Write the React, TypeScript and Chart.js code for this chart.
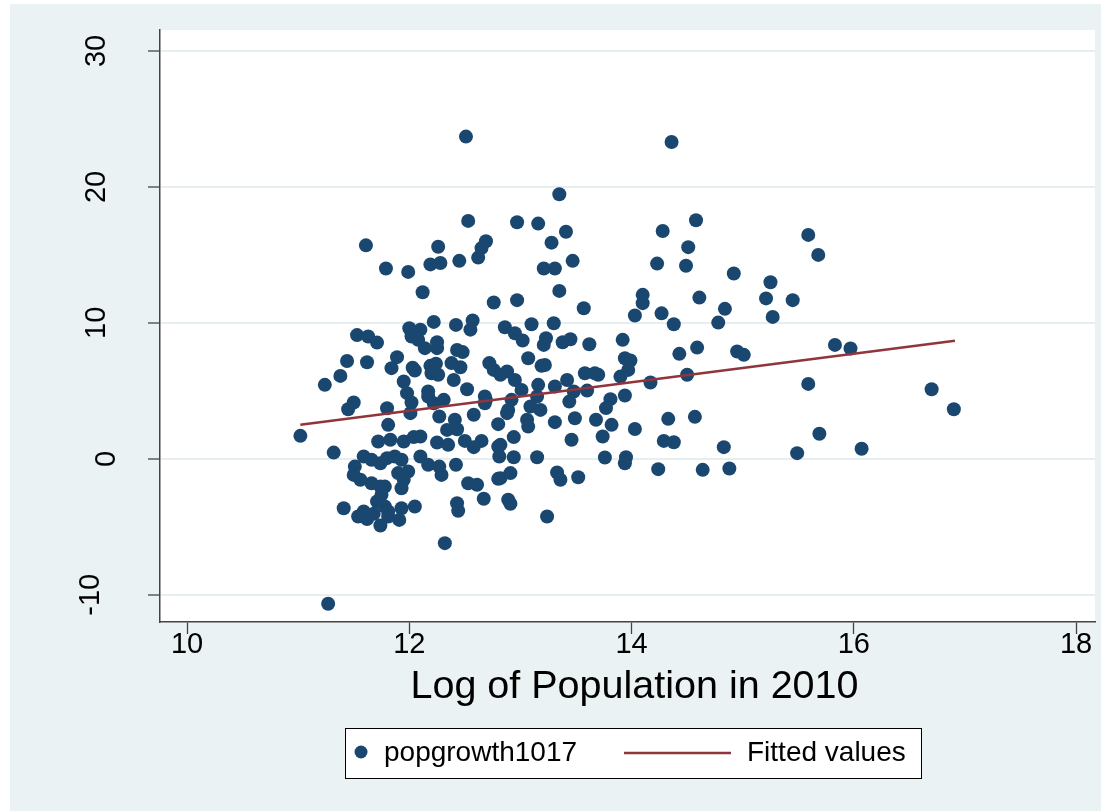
import React, { useEffect, useRef } from "react";
import { Chart, registerables } from "chart.js";

Chart.register(...registerables);

const FONT = '"Liberation Sans", Arial, Helvetica, sans-serif';

const xTicks = [10, 12, 14, 16, 18];
const yTicks = [-10, 0, 10, 20, 30];
const xTitle = "Log of Population in 2010";
const seriesNames = ["popgrowth1017", "Fitted values"];

const logPop = [
  12.51, 12.53, 11.61, 12.26, 12.69, 12.65, 12.62, 11.79, 11.99, 12.19, 12.28, 12.45, 12.12, 12.76, 11.53, 11.63, 11.71, 11.44, 11.62, 12.0,
  12.1, 12.02, 12.08, 12.22, 12.42, 12.57, 12.55, 12.14, 12.25, 12.25, 12.43, 12.48, 11.89, 11.84, 12.03, 12.19, 12.24, 12.38, 12.46, 12.72, 12.86,
  14.36, 13.35, 12.97, 13.16, 13.41, 13.28, 13.21, 13.31, 13.47, 13.35, 12.97, 13.57, 14.28, 14.58, 14.51, 14.23, 14.49, 14.92, 14.1, 14.1,
  14.03, 14.27, 14.38, 14.61, 14.84, 14.78, 12.95, 13.02, 13.1, 13.3, 13.23, 13.21, 13.38, 13.45, 13.62, 13.92, 13.07, 13.19, 13.94, 13.99, 14.43, 14.59,
  15.59, 15.68, 15.25, 15.21, 15.45, 15.27, 14.95, 15.01, 15.83, 15.97,
  15.59, 16.7, 16.9, 15.69, 15.49, 16.07, 14.83, 14.88,
  13.22, 12.88, 12.95, 13.01, 12.92, 12.89, 13.09, 13.18, 13.15, 13.16, 13.31, 13.42, 13.48, 13.44, 13.58, 13.67, 13.7, 13.6, 13.81, 13.77,
  13.94, 13.9, 13.97, 14.17, 14.5, 13.06, 13.07, 12.94, 12.82, 12.94, 12.91, 12.82, 12.89, 12.91, 13.15, 13.24, 13.33, 13.36, 13.52, 13.31,
  13.49, 13.46, 13.68, 13.74, 13.82, 14.03, 13.76, 13.95, 13.94, 14.33, 14.57, 14.29, 14.38, 14.24, 14.64,
  11.02, 11.24, 11.38, 11.45, 11.5, 11.32, 11.8, 11.95, 12.05, 11.98, 12.02, 12.01, 12.17, 12.2, 12.26, 12.22, 12.31, 12.27, 12.41, 12.34,
  12.43, 12.4, 12.52, 12.58, 12.69, 12.8, 12.88, 11.81, 11.72, 11.83, 11.95, 12.04, 12.1, 12.25, 12.35, 12.5, 12.58, 12.65, 12.1, 12.17,
  12.27, 12.29, 12.42, 12.53, 12.61, 12.67, 12.43, 12.44, 12.32, 12.8, 12.81, 12.8, 11.27, 11.59, 11.51, 11.5, 11.56, 11.66, 11.74, 11.8,
  11.87, 11.93, 11.9, 11.99, 11.95, 11.93, 11.66, 11.74, 11.78, 11.71, 11.75, 11.78, 11.81, 11.41, 11.59, 11.54, 11.62, 11.68, 11.74, 11.81,
  11.91, 11.93, 12.05, 12.17, 12.68, 12.68, 12.76, 12.82,
];

const popGrowth = [
  23.7, 17.5, 15.7, 15.6, 16.0, 15.5, 14.8, 14.0, 13.75, 14.3, 14.4, 14.56, 12.25, 11.5, 9.1, 9.0, 8.55, 7.2, 7.1, 9.6,
  9.5, 9.0, 8.75, 10.07, 9.85, 10.17, 9.5, 8.14, 8.58, 8.14, 8.0, 7.85, 7.48, 6.67, 6.7, 6.84, 7.0, 7.04, 6.74, 7.04, 9.68,
  23.3, 19.46, 17.4, 17.3, 16.7, 15.9, 14.0, 14.0, 14.56, 12.35, 11.67, 11.08, 16.76, 17.55, 15.57, 14.36, 14.2, 13.63, 12.06, 11.45,
  10.54, 10.7, 9.9, 11.86, 11.03, 10.02, 9.24, 8.7, 9.9, 9.97, 8.87, 8.38, 8.58, 8.8, 8.43, 8.75, 7.4, 6.84, 7.4, 7.23, 7.72, 8.18,
  16.47, 15.0, 12.99, 11.8, 11.67, 10.44, 7.89, 7.65, 8.38, 8.11,
  5.51, 5.12, 3.65, 1.84, 0.42, 0.74, 0.86, -0.71,
  6.9, 6.42, 5.8, 5.07, 4.34, 3.6, 3.85, 3.6, 4.58, 5.44, 5.32, 5.8, 4.95, 4.21, 6.3, 6.3, 6.18, 5.02, 4.39, 3.73,
  4.66, 6.05, 6.54, 5.61, 6.18, 2.87, 2.37, 1.6, 1.03, 0.12, -1.05, -1.42, -3.0, -3.3, 0.12, -4.24, -1.0, -1.54, -1.35, 2.7,
  2.99, 1.4, 2.87, 1.64, 2.5, 2.2, 0.1, 0.12, -0.32, 2.94, 3.09, 1.32, 1.22, -0.76, -0.81,
  1.69, 5.44, 6.1, 3.65, 4.14, 0.46, 3.72, 5.69, 6.5, 4.83, 4.14, 3.36, 4.95, 6.3, 6.18, 4.09, 4.34, 3.11, 2.87, 2.13,
  2.18, 5.8, 5.12, 3.24, 4.34, 2.55, 3.36, 2.5, 1.27, 1.4, 1.27, 1.6, 1.64, 1.2, 1.03, 1.32, 0.86, 1.32, 0.17, -0.44,
  -0.57, -1.18, -0.44, -1.79, -1.91, -2.94, -3.26, -3.82, -6.2, 0.9, 0.17, -1.47, -10.66, 0.17, -0.57, -1.18, -1.54, -0.07, -0.32, 0.05,
  0.17, -0.07, -1.05, -0.93, -1.54, -2.16, -1.79, -2.04, -2.04, -3.14, -2.65, -3.5, -3.87, -3.63, -3.87, -4.24, -4.43, -4.04, -4.9, -4.24,
  -4.49, -3.63, -3.5, 4.58, 4.58, 4.09, 6.54, 6.18,
];

const fitLogPop = [11.02, 16.91];
const fitValues = [2.5, 8.68];

const NAVY = "#1a476f";
const MAROON = "#90353b";
const BG = "#eaf2f3";

export default function App() {
  const ref = useRef<HTMLCanvasElement | null>(null);

  useEffect(() => {
    const canvas = ref.current;
    if (!canvas) return;
    const n = Math.min(logPop.length, popGrowth.length);
    const scatterData = [];
    for (let i = 0; i < n; i++) scatterData.push({ x: logPop[i], y: popGrowth[i] });
    const fitData = fitLogPop.map((x, i) => ({ x, y: fitValues[i] }));

    const backgroundPlugin = {
      id: "stataBackground",
      beforeDraw(chart: any) {
        const { ctx, chartArea } = chart;
        ctx.save();
        ctx.fillStyle = "#ffffff";
        ctx.fillRect(0, 0, chart.width, chart.height);
        ctx.fillStyle = BG;
        ctx.fillRect(10, 4, 1091, 807);
        ctx.fillStyle = "#ffffff";
        ctx.fillRect(chartArea.left, chartArea.top, chartArea.right - chartArea.left, chartArea.bottom - chartArea.top);
        ctx.restore();
      },
    };

    const textPlugin = {
      id: "stataText",
      afterDraw(chart: any) {
        const { ctx, chartArea } = chart;
        const ys = chart.scales.y;
        ctx.save();
        ctx.font = `29px ${FONT}`;
        ctx.fillStyle = "#000";
        ctx.textAlign = "center";
        ctx.textBaseline = "middle";
        for (const v of yTicks) {
          const label = String(v);
          const py = ys.getPixelForValue(v);
          const w = ctx.measureText(label).width;
          const cx = 117 - 0.62 * w;
          ctx.save();
          ctx.translate(cx, py);
          ctx.rotate(-Math.PI / 2);
          ctx.fillText(label, 0, 0);
          ctx.restore();
        }
        // x-axis title
        ctx.font = `39.5px ${FONT}`;
        ctx.fillText(xTitle, (chartArea.left + chartArea.right) / 2 + 7, 687);
        ctx.restore();
      },
    };

    const legendPlugin = {
      id: "boxLegend",
      afterDraw(chart: any) {
        const { ctx } = chart;
        const ds = chart.data.datasets;
        ctx.save();
        ctx.fillStyle = "#ffffff";
        ctx.fillRect(345, 728, 576, 50);
        ctx.strokeStyle = "#000";
        ctx.lineWidth = 1;
        ctx.strokeRect(345.5, 728.5, 576, 50);
        const cy = 753;
        ctx.fillStyle = ds[0].backgroundColor;
        ctx.beginPath();
        ctx.arc(361, cy - 1, 6.5, 0, Math.PI * 2);
        ctx.fill();
        ctx.strokeStyle = ds[1].borderColor;
        ctx.lineWidth = 2.5;
        ctx.beginPath();
        ctx.moveTo(624, cy);
        ctx.lineTo(731, cy);
        ctx.stroke();
        ctx.fillStyle = "#000";
        ctx.font = `28px ${FONT}`;
        ctx.textAlign = "left";
        ctx.textBaseline = "middle";
        ctx.fillText(ds[0].label, 384, cy);
        ctx.fillText(ds[1].label, 747, cy);
        ctx.restore();
      },
    };

    const chart = new Chart(canvas, {
      type: "scatter",
      data: {
        datasets: [
          {
            label: seriesNames[0],
            data: scatterData,
            backgroundColor: NAVY,
            borderColor: NAVY,
            borderWidth: 0,
            pointRadius: 7,
            order: 2,
          },
          {
            label: seriesNames[1],
            data: fitData,
            showLine: true,
            borderColor: MAROON,
            backgroundColor: MAROON,
            borderWidth: 2.5,
            pointRadius: 0,
            order: 1,
          },
        ],
      } as any,
      options: {
        responsive: false,
        animation: false,
        devicePixelRatio: 1,
        layout: { padding: { left: 0, right: 12, top: 30, bottom: 0 } },
        plugins: { legend: { display: false }, tooltip: { enabled: false } },
        scales: {
          x: {
            type: "linear",
            min: 9.757,
            max: 18.17,
            afterBuildTicks: (s: any) => {
              s.ticks = xTicks.map((v) => ({ value: v }));
            },
            afterFit: (s: any) => {
              s.height = 189;
            },
            ticks: {
              font: { family: FONT, size: 29, lineHeight: 1 },
              color: "#000",
              padding: -4,
              maxRotation: 0,
              minRotation: 0,
              autoSkip: false,
            },
            grid: {
              drawOnChartArea: false,
              drawTicks: true,
              tickLength: 12,
              tickColor: "#444",
              tickWidth: 1.3,
            },
            border: { display: true, color: "#444", width: 1.5 },
            title: { display: false },
          },
          y: {
            type: "linear",
            min: -12,
            max: 31.54,
            afterBuildTicks: (s: any) => {
              s.ticks = yTicks.map((v) => ({ value: v }));
            },
            afterFit: (s: any) => {
              s.width = 160;
            },
            ticks: { display: false },
            grid: {
              color: "#e6eef0",
              lineWidth: 2,
              drawTicks: true,
              tickLength: 12,
              tickColor: "#444",
              tickWidth: 1.3,
            },
            border: { display: true, color: "#444", width: 1.5 },
          },
        },
      } as any,
      plugins: [backgroundPlugin, textPlugin, legendPlugin],
    });

    return () => chart.destroy();
  }, []);

  return (
    <div style={{ position: "fixed", left: 0, top: 0, width: 1107, height: 811, background: "#fff" }}>
      <canvas ref={ref} width={1107} height={811} style={{ display: "block", width: 1107, height: 811 }} />
    </div>
  );
}
